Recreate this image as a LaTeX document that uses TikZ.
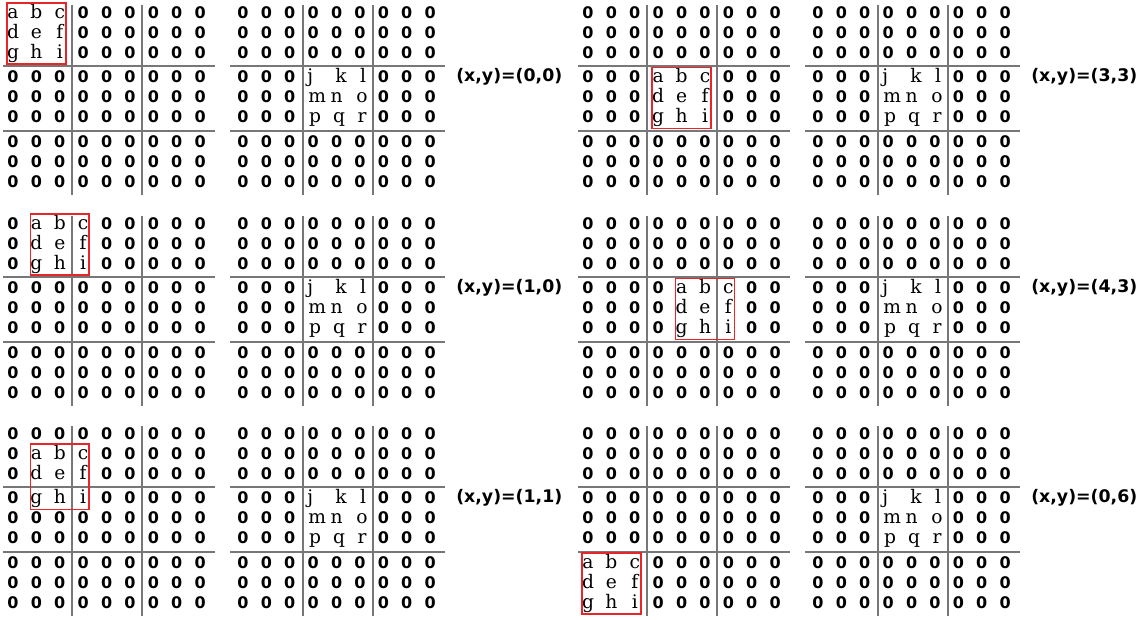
\documentclass[tikz,border=0pt]{standalone}
\usepackage{fontspec}
\setmainfont{DejaVu Serif}
\newfontfamily\zerofont{DejaVu Sans}
\usetikzlibrary{positioning}
\definecolor{boxred}{HTML}{E8262A}
\definecolor{sepgray}{HTML}{777777}
\tikzset{zero/.style={font=\zerofont\bfseries\fontsize{12}{14}\selectfont, inner sep=0pt, anchor=base},
  lett/.style={font=\fontsize{14}{16}\selectfont, inner sep=0pt, anchor=base},
  sep/.style={draw=sepgray, line width=0.9pt}, win/.style={draw=boxred, line width=1.2pt},
  poslabel/.style={font=\zerofont\bfseries\fontsize{13}{15}\selectfont, anchor=west, inner sep=0pt}}
% left grid: 3x3 window a..i at column #2, row #3
\newcommand{\boxgrid}[3]{%
  \foreach \cx in {0,...,8} \foreach \rw in {0,...,8}{
    \pgfmathtruncatemacro\inwin{(\cx>#2-1)&&(\cx<#2+3)&&(\rw>#3-1)&&(\rw<#3+3)}
    \ifnum\inwin=0 \node[zero] (#1-l-\cx-\rw) at ({colx(\cx)},{rowy(\rw)+5}) {0};\fi}
  \foreach \t [count=\k from 0] in {a,b,c,d,e,f,g,h,i}{
    \pgfmathtruncatemacro\cx{#2+mod(\k,3)} \pgfmathtruncatemacro\rw{#3+floor(\k/3)}
    \node[lett] (#1-\t) at ({colx(\cx)},{rowy(\rw)+5}) {\t};}
  \draw[sep] (72,5) -- (72,195) (142,5) -- (142,195) (3,66) -- (215,66) (3,131) -- (215,131);
  \draw[win] ({colx(#2)-6},{rowy(#3)-10}) rectangle ({colx(#2+2)+6},{rowy(#3+2)+11});}
% right grid: fixed block j..r in the middle
\newcommand{\pattgrid}[1]{%
  \begin{scope}[shift={(230,0)}]
  \foreach \cx in {0,...,8} \foreach \rw in {0,...,8}{
    \pgfmathtruncatemacro\inwin{(\cx>2)&&(\cx<6)&&(\rw>2)&&(\rw<6)}
    \ifnum\inwin=0 \node[zero] (#1-r-\cx-\rw) at ({colx(\cx)},{rowy(\rw)+5}) {0};\fi}
  \foreach \t/\dx [count=\k from 0] in {j/-3,k/4.5,l/3,m/4,n/0,o/2,p/2,q/2.5,r/2}{
    \pgfmathtruncatemacro\cx{3+mod(\k,3)} \pgfmathtruncatemacro\rw{3+floor(\k/3)}
    \node[lett] (#1-\t) at ({colx(\cx)+\dx},{rowy(\rw)+5}) {\t};}
  \draw[sep] (73,5) -- (73,195) (143,5) -- (143,195) (0,66) -- (215,66) (0,131) -- (215,131);
  \end{scope}}

\begin{document}
\begin{tikzpicture}[x=0.75pt,y=-0.75pt, declare function={colx(\i)=13+23.4*\i; rowy(\i)=13+20*\i+4.5*floor(\i/3);}]
\useasboundingbox (0,0) rectangle (1141,619);
% ---- six window positions ----
\foreach \nm/\px/\py/\wx/\wy in {pa/0/0/0/0, pb/575/0/3/3, pc/0/211/1/0, pd/575/211/4/3, pe/0/421/1/1, pf/575/421/0/6}{
  \begin{scope}[shift={(\px,\py)}]
  \boxgrid{\nm}{\wx}{\wy}
  \pattgrid{\nm}
  \node[poslabel] (\nm-lab) at (456,77) {(x,y)=(\wx,\wy)};
  \end{scope}}
\end{tikzpicture}
\end{document}
